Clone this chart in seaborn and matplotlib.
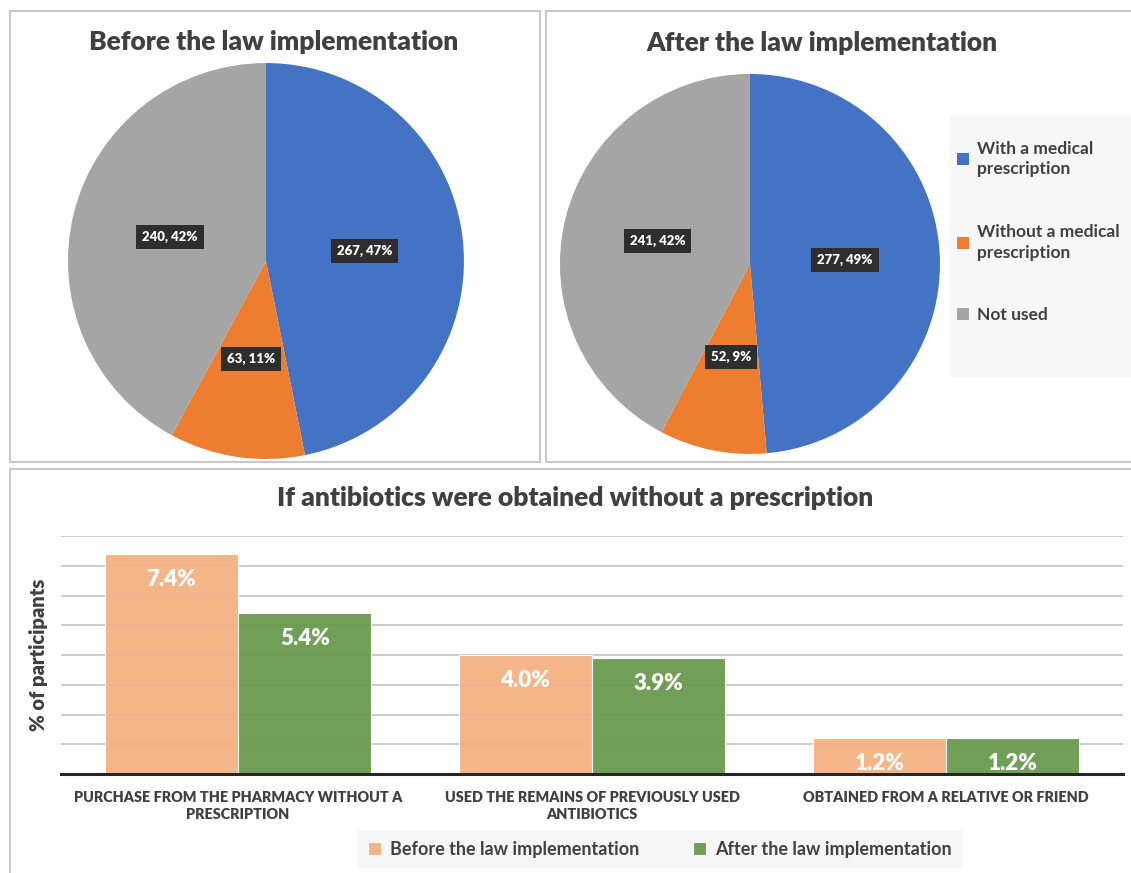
import matplotlib
matplotlib.use("Agg")
import matplotlib.pyplot as plt
from matplotlib.patches import Rectangle
import seaborn as sns
import pandas as pd
import numpy as np

# -----------------------------
# data
# -----------------------------
use_labels = ["With a medical\nprescription", "Without a medical\nprescription", "Not used"]
before_counts = [267, 63, 240]
after_counts = [277, 52, 241]
pie_colors = ["#4472C4", "#ED7D31", "#A5A5A5"]

categories = ["PURCHASE FROM THE PHARMACY WITHOUT A\nPRESCRIPTION",
              "USED THE REMAINS OF PREVIOUSLY USED\nANTIBIOTICS",
              "OBTAINED FROM A RELATIVE OR FRIEND"]
before_pct = [7.4, 4.0, 1.2]
after_pct = [5.4, 3.9, 1.2]
periods = ["Before the law implementation", "After the law implementation"]
bar_colors = ["#F4B183", "#6A9A4E"]

sns.set_style("white")
plt.rcParams['font.family'] = ['Lato', 'DejaVu Sans']
dark = "#404040"
HEAVY = "heavy"

fig = plt.figure(figsize=(11.31, 8.73), dpi=100)

# panel borders (pixel boxes -> figure fraction)
W, H = 1131, 873
def box(x0, y0, x1, y1):
    fig.patches.append(Rectangle((x0 / W, 1 - y1 / H), (x1 - x0) / W, (y1 - y0) / H,
                                 transform=fig.transFigure, fill=False,
                                 edgecolor="#C8C8C8", lw=1.5, zorder=0))
box(10, 11, 540, 462)
box(546, 11, 1135, 462)
box(10, 469, 1135, 880)

# -----------------------------
# pies
# -----------------------------
def draw_pie(ax, counts):
    total = sum(counts)
    wedges, _ = ax.pie(counts, colors=pie_colors, startangle=90, counterclock=False,
                       wedgeprops=dict(linewidth=0))
    for w, v in zip(wedges, counts):
        mid = np.deg2rad((w.theta1 + w.theta2) / 2)
        ax.text(0.5 * np.cos(mid), 0.5 * np.sin(mid), f"{v}, {v / total * 100:.0f}%",
                ha="center", va="center", color="white", fontsize=9.5, fontweight=HEAVY,
                bbox=dict(boxstyle="square,pad=0.45", fc="#2E2E2E", ec="none"))
    ax.set_xlim(-1, 1)
    ax.set_ylim(-1, 1)
    return wedges

ax1 = fig.add_axes([0.0601, 0.4742, 0.3501, 0.4536])
draw_pie(ax1, before_counts)
ax2 = fig.add_axes([0.4951, 0.4800, 0.3360, 0.4353])
wedges = draw_pie(ax2, after_counts)

fig.text(274 / W, 1 - 42 / H, "Before the law implementation", ha="center", va="center",
         fontsize=19, fontweight=HEAVY, color=dark)
fig.text(822 / W, 1 - 43 / H, "After the law implementation", ha="center", va="center",
         fontsize=19, fontweight=HEAVY, color=dark)

# legend for pies on light background
fig.patches.append(Rectangle((950 / W, 1 - 377 / H), 181 / W, 262 / H,
                             transform=fig.transFigure, fc="#F7F7F7", ec="none", zorder=0))
leg = fig.legend(wedges, use_labels, loc="upper left", bbox_to_anchor=(941 / W, 1 - 125 / H),
                 frameon=False, labelspacing=2.7, handlelength=0.7,
                 handleheight=0.7, handletextpad=0.5, labelcolor=dark,
                 prop=dict(weight="bold", size=12.5))
for t in leg.get_texts():
    t.set_linespacing(1.35)

# -----------------------------
# bar chart
# -----------------------------
df = pd.DataFrame({
    "category": categories * 2,
    "value": before_pct + after_pct,
    "period": [periods[0]] * 3 + [periods[1]] * 3,
})

ax3 = fig.add_axes([61 / W, 1 - 774 / H, 1062 / W, 238 / H])
sns.barplot(data=df, x="category", y="value", hue="period", palette=bar_colors,
            width=0.754, gap=0, saturation=1, edgecolor="white", linewidth=0.8,
            alpha=0.95, ax=ax3, zorder=2)
ax3.set_ylim(0, 8)
ax3.set_xlim(-0.5, 2.5)
ax3.set_yticks(range(1, 9))
ax3.set_yticklabels([])
ax3.tick_params(axis="both", length=0)
ax3.grid(axis="y", color="#C8C8C8", lw=1.3, zorder=0)
ax3.set_axisbelow(True)
for s in ["left", "right", "top"]:
    ax3.spines[s].set_visible(False)
ax3.spines["bottom"].set_color("#262626")
ax3.spines["bottom"].set_linewidth(2.2)
ax3.set_xlabel("")
ax3.set_ylabel("% of participants", fontsize=14.5, fontweight=HEAVY, color=dark, labelpad=6)
ax3.set_xticks(range(3))
ax3.set_xticklabels(categories, fontsize=10.4, fontweight=HEAVY, color=dark, linespacing=1.4)
ax3.tick_params(axis="x", pad=12)

for cont in ax3.containers:
    ax3.bar_label(cont, labels=[f"{b.get_height():.1f}%" for b in cont], padding=-26,
                  color="white", fontsize=16, fontweight=HEAVY)

fig.text(575 / W, 1 - 498 / H, "If antibiotics were obtained without a prescription",
         ha="center", va="center", fontsize=19, fontweight=HEAVY, color=dark)

ax3.legend(loc="center", bbox_to_anchor=(660 / W, 1 - 849 / H),
           bbox_transform=fig.transFigure, ncol=2, frameon=True, facecolor="#F4F4F4",
           edgecolor="none", fancybox=False, handlelength=0.7, handleheight=0.7,
           handletextpad=0.5, columnspacing=3.0, borderpad=0.6, borderaxespad=0,
           prop=dict(weight="bold", size=13), labelcolor=dark)

fig.savefig("out.png", dpi=100, facecolor="white")
